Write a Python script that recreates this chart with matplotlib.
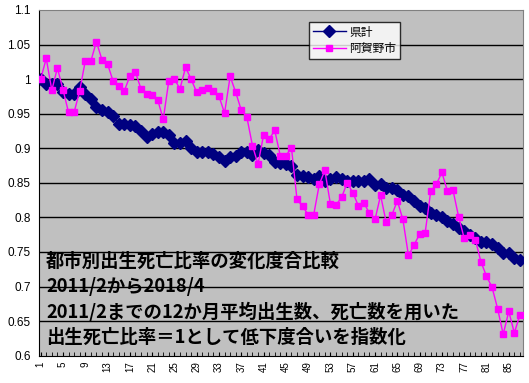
import numpy as np
import matplotlib
matplotlib.use('Agg')
import matplotlib.pyplot as plt

# データ
kenkei = [1.000, 0.993, 0.993, 0.993, 0.982, 0.979, 0.979, 0.988, 0.979, 0.971,
          0.959, 0.955, 0.952, 0.946, 0.935, 0.935, 0.934, 0.932, 0.925, 0.916,
          0.920, 0.924, 0.923, 0.919, 0.908, 0.908, 0.911, 0.901, 0.894, 0.894,
          0.895, 0.892, 0.887, 0.882, 0.888, 0.889, 0.895, 0.894, 0.890, 0.897,
          0.893, 0.891, 0.880, 0.879, 0.877, 0.874, 0.862, 0.860, 0.859, 0.856,
          0.860, 0.853, 0.855, 0.859, 0.855, 0.852, 0.852, 0.852, 0.852, 0.855,
          0.847, 0.849, 0.843, 0.842, 0.839, 0.833, 0.831, 0.824, 0.817, 0.813,
          0.807, 0.804, 0.801, 0.795, 0.791, 0.785, 0.781, 0.775, 0.770, 0.765,
          0.764, 0.762, 0.756, 0.748, 0.749, 0.742, 0.738]
agano = [1.000, 1.030, 0.984, 1.016, 0.985, 0.952, 0.952, 0.983, 1.026, 1.026,
         1.054, 1.028, 1.022, 0.997, 0.990, 0.983, 1.004, 1.010, 0.986, 0.979,
         0.977, 0.970, 0.942, 0.998, 1.000, 0.986, 1.017, 1.000, 0.981, 0.984,
         0.987, 0.983, 0.975, 0.951, 1.004, 0.981, 0.955, 0.945, 0.904, 0.877,
         0.919, 0.913, 0.926, 0.889, 0.889, 0.901, 0.826, 0.816, 0.804, 0.804,
         0.848, 0.868, 0.819, 0.818, 0.829, 0.850, 0.836, 0.817, 0.821, 0.806,
         0.797, 0.832, 0.793, 0.803, 0.824, 0.797, 0.745, 0.760, 0.776, 0.778,
         0.838, 0.848, 0.865, 0.838, 0.839, 0.801, 0.770, 0.775, 0.768, 0.736,
         0.715, 0.699, 0.668, 0.631, 0.664, 0.633, 0.659]
x = np.arange(1, len(kenkei) + 1)
xticks = list(range(1, 87, 4))
yticks = [0.6, 0.65, 0.7, 0.75, 0.8, 0.85, 0.9, 0.95, 1.0, 1.05, 1.1]
ylabels = ['0.6', '0.65', '0.7', '0.75', '0.8', '0.85', '0.9', '0.95', '1', '1.05', '1.1']

plt.rcParams['font.family'] = ['Liberation Sans', 'Noto Sans CJK JP']

fig = plt.figure(figsize=(5.29, 3.83), dpi=100)
ax = fig.add_axes([39 / 529, 1 - 355.7 / 383, 483.7 / 529, 345.7 / 383])
ax.set_facecolor('#C0C0C0')

for yv in yticks[1:-1]:
    ax.axhline(yv, color='black', lw=1, zorder=1)

ax.plot(x, kenkei, color='#000080', marker='D', markersize=6, lw=1,
        label='県計', zorder=3)
ax.plot(x, agano, color='#FF00FF', marker='s', markersize=4.5, lw=1,
        label='阿賀野市', zorder=4)

ax.set_xlim(0.7, 87.5)
ax.set_ylim(0.6, 1.1)
ax.set_yticks(yticks)
ax.set_yticklabels(ylabels, fontsize=8.5)
ax.set_xticks(xticks)
ax.set_xticklabels([str(t) for t in xticks], rotation=90, fontsize=7)
ax.set_xticks(x, minor=True)
ax.tick_params(axis='x', which='both', direction='in', length=3, pad=4)
ax.tick_params(axis='y', length=0, pad=6)

for side in ['top', 'right']:
    ax.spines[side].set_color('#808080')
for side in ['left', 'bottom']:
    ax.spines[side].set_color('black')

leg = ax.legend(loc='upper left', bbox_to_anchor=(270 / 483.7, 1 - 12 / 345.7),
                frameon=True, fancybox=False, edgecolor='black',
                borderpad=0.3, labelspacing=0.3, handlelength=2.8, handletextpad=0.3,
                borderaxespad=0,
                prop={'family': ['Noto Sans CJK JP'], 'size': 8.5})
leg.get_frame().set_linewidth(1)
leg.get_frame().set_facecolor('white')

lines = ['都市別出生死亡比率の変化度合比較',
         '2011/2から2018/4',
         '2011/2までの12か月平均出生数、死亡数を用いた',
         '出生死亡比率＝1として低下度合いを指数化']
ys = [261, 287, 312, 337]
for t, yy in zip(lines, ys):
    fig.text(46 / 529, 1 - yy / 383, t, fontsize=13.2, fontweight='bold',
             family=['Noto Sans CJK JP'], va='center', ha='left', color='black')

fig.savefig('out.png', dpi=100, facecolor='white')
